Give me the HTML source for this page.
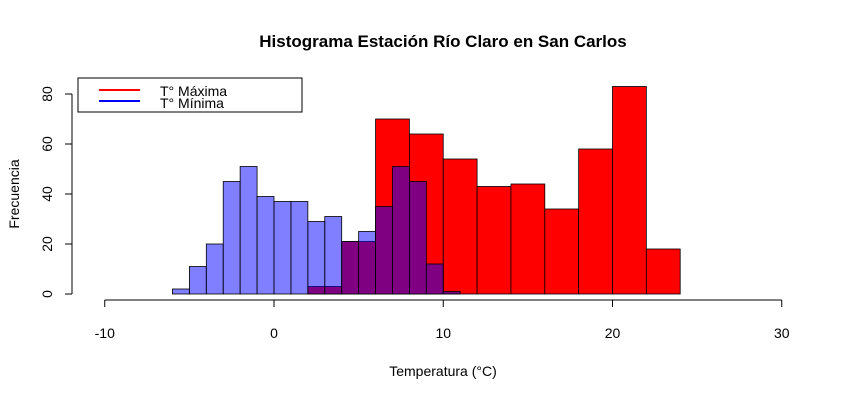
<!DOCTYPE html>
<html><head><meta charset="utf-8"><style>
body{margin:0;background:#fff;}
svg{font-family:"Liberation Sans",Arial,sans-serif;}
</style></head><body>
<svg id="chart" width="850" height="400" xmlns="http://www.w3.org/2000/svg">
<text x="443" y="47" text-anchor="middle" font-size="17" font-weight="bold">Histograma Estación Río Claro en San Carlos</text>
<text x="443" y="376" text-anchor="middle" font-size="14">Temperatura (°C)</text>
<text x="19" y="194" text-anchor="middle" font-size="14" transform="rotate(-90 19 194)">Frecuencia</text>
<g id="bars"></g>
<g id="axes"></g>
<g>
<rect x="78" y="78" width="224" height="34" fill="#fff" stroke="#000"/>
<line x1="99" y1="90" x2="140" y2="90" stroke="#f00" stroke-width="2"/>
<line x1="99" y1="101" x2="140" y2="101" stroke="#00f" stroke-width="2"/>
<text x="160" y="96" font-size="14">T° Máxima</text>
<text x="160" y="108" font-size="14">T° Mínima</text>
</g>
</svg>
<script>
const maxBreaks=[2,4,6,8,10,12,14,16,18,20,22,24];
const maxCounts=[3,21,70,64,54,43,44,34,58,83,18];
const minBreaks=[-6,-5,-4,-3,-2,-1,0,1,2,3,4,5,6,7,8,9,10,11];
const minCounts=[2,11,20,45,51,39,37,37,29,31,21,25,35,51,45,12,1];
const xTicks=[-10,0,10,20,30];
const yTicks=[0,20,40,60,80];
const NS="http://www.w3.org/2000/svg";
function sx(v){return 274+(v)*16.925;}
function sy(v){return 294-v*2.5;}
const bars=document.getElementById('bars');
function mk(tag,attrs,parent){const e=document.createElementNS(NS,tag);for(const k in attrs)e.setAttribute(k,attrs[k]);parent.appendChild(e);return e;}
for(let i=0;i<maxCounts.length;i++){
 const r=mk('rect',{x:sx(maxBreaks[i]),y:sy(maxCounts[i]),width:sx(maxBreaks[i+1])-sx(maxBreaks[i]),height:sy(0)-sy(maxCounts[i]),fill:'#ff0000',stroke:'#000','stroke-width':0.8},bars);
 
 
}
for(let i=0;i<minCounts.length;i++){
 const r=mk('rect',{x:sx(minBreaks[i]),y:sy(minCounts[i]),width:sx(minBreaks[i+1])-sx(minBreaks[i]),height:sy(0)-sy(minCounts[i]),fill:'rgba(0,0,255,0.5)',stroke:'#000','stroke-width':0.8},bars);
 
 
}
const axes=document.getElementById('axes');
mk('line',{x1:sx(xTicks[0]),y1:300,x2:sx(xTicks[xTicks.length-1]),y2:300,stroke:'#000'},axes);
xTicks.forEach(t=>{
 mk('line',{x1:sx(t),y1:300,x2:sx(t),y2:307,stroke:'#000'},axes);
 const tx=mk('text',{x:sx(t),y:338,'text-anchor':'middle','font-size':14},axes);
 tx.textContent=t;
 
 
});
mk('line',{x1:72,y1:sy(yTicks[0]),x2:72,y2:sy(yTicks[yTicks.length-1]),stroke:'#000'},axes);
yTicks.forEach(t=>{
 mk('line',{x1:65,y1:sy(t),x2:72,y2:sy(t),stroke:'#000'},axes);
 const tx=mk('text',{x:52,y:sy(t),'text-anchor':'middle','font-size':14,transform:`rotate(-90 52 ${sy(t)})`},axes);
 tx.textContent=t;
 
 
});
</script>
</body></html>
